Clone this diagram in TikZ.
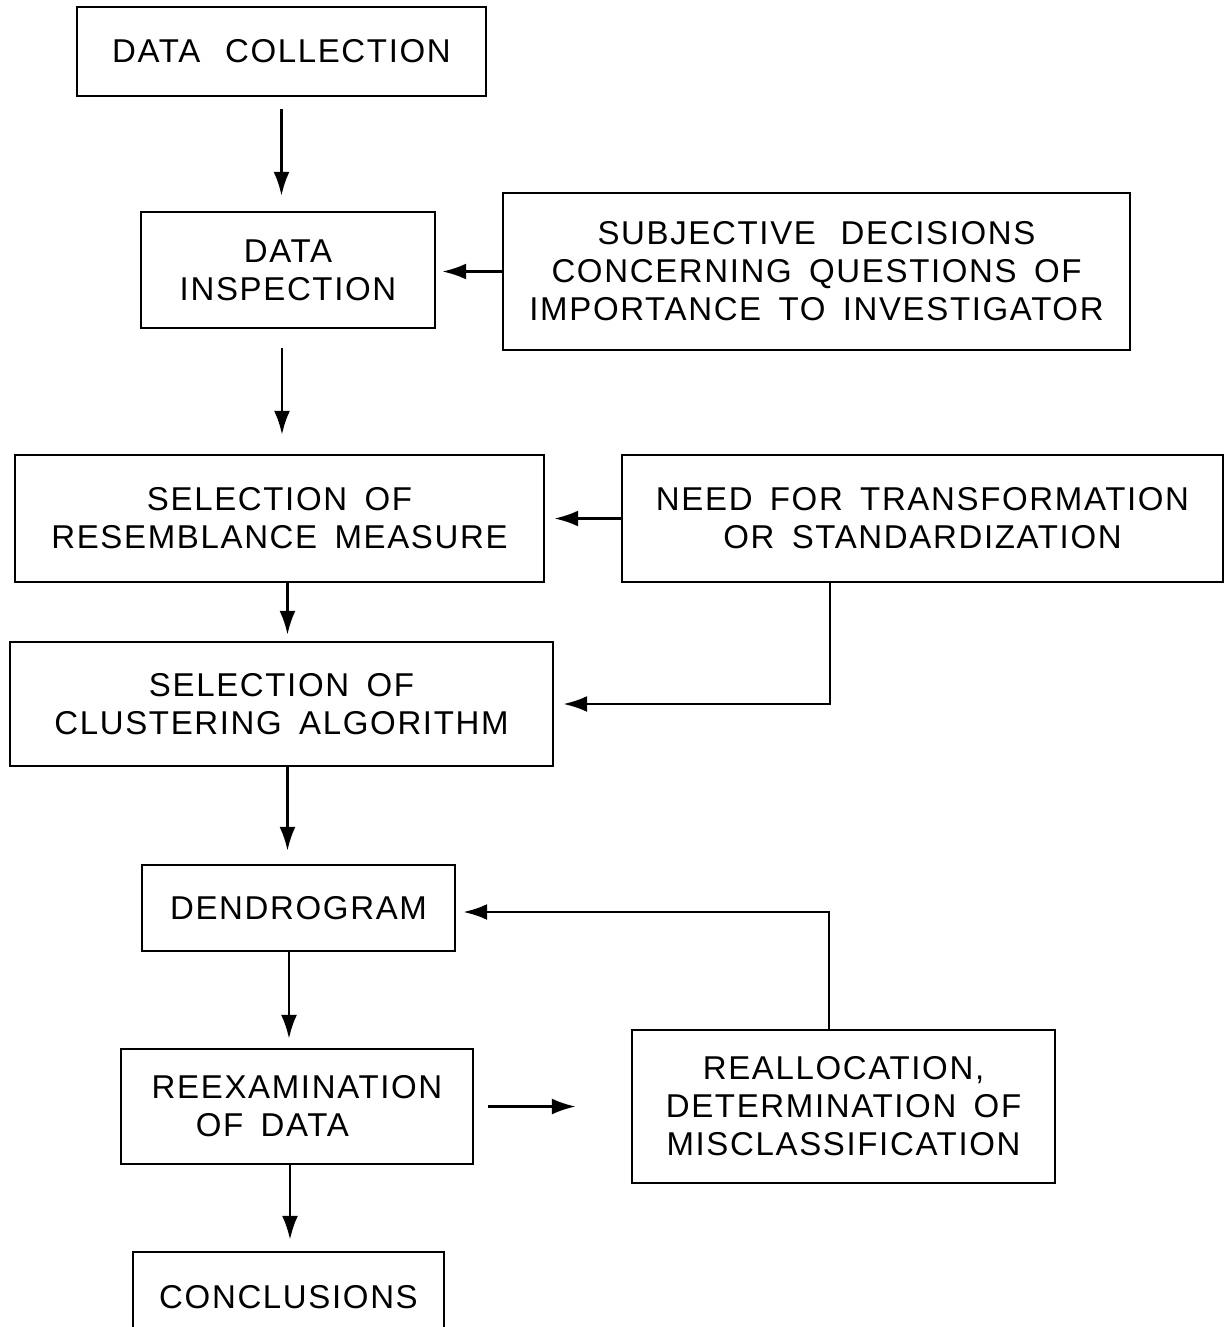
\documentclass[tikz,border=0pt]{standalone}
\usepackage{fontspec}
\setmainfont{Liberation Sans}[LetterSpace=5, WordSpace=1.6]
\usetikzlibrary{arrows.meta}
\begin{document}
\begin{tikzpicture}[x=0.5pt, y=-0.5pt, line width=1.2pt,
  main/.style = {draw, rectangle, align=center, inner sep=0pt, font=\fontsize{16.5}{19}\selectfont},
  arr/.style = {-{Latex[length=12pt, width=8pt]}, line width=1.4pt}]
\useasboundingbox (0,0) rectangle (1231,1327);

\node[main, minimum width=204.5pt, minimum height=44.5pt] (1) at (281.5,51.5) {DATA\hspace{0.75em}COLLECTION};
\node[main, minimum width=147pt, minimum height=58pt] (2) at (288,270) {DATA\\INSPECTION};
\node[main, minimum width=313.5pt, minimum height=78.5pt] (3) at (816.5,271.5) {SUBJECTIVE\hspace{0.75em}DECISIONS\\CONCERNING QUESTIONS OF\\IMPORTANCE TO INVESTIGATOR};
\node[main, minimum width=264.5pt, minimum height=63.5pt] (4) at (279.5,518.5) {SELECTION OF\\RESEMBLANCE MEASURE};
\node[main, minimum width=300.5pt, minimum height=63.5pt] (5) at (922.5,518.5) {NEED FOR TRANSFORMATION\\OR STANDARDIZATION};
\node[main, minimum width=271.5pt, minimum height=62pt] (6) at (281.5,704) {SELECTION OF\\CLUSTERING ALGORITHM};
\node[main, minimum width=156.5pt, minimum height=43pt] (7) at (298.5,908) {DENDROGRAM};
\node[main, minimum width=176pt, minimum height=57.5pt] (8) at (297,1106.5) {REEXAMINATION\\OF DATA\hphantom{NN}};
\node[main, minimum width=211.5pt, minimum height=76.5pt] (9) at (843.5,1106.5) {REALLOCATION,\\DETERMINATION OF\\MISCLASSIFICATION};
\node[main, minimum width=155.5pt, minimum height=45pt] (10) at (288.5,1297) {CONCLUSIONS};

\draw[arr, shorten <=6pt, shorten >=7.5pt] (1.south) -- (1.south |- 2.north);
\draw[arr, shorten >=3pt] (3.west) -- (3.west -| 2.east);
\draw[arr, shorten <=9.5pt, shorten >=9.5pt] ([xshift=-3pt]2.south) -- ([xshift=-3pt]2.south |- 4.north);
\draw[arr, shorten >=4.5pt] (5.west) -- (4.east);
\draw[arr, shorten >=3pt] ([xshift=4pt]4.south) -- ([xshift=4pt]4.south |- 6.north);
\draw[arr, shorten >=4.5pt] ([xshift=-46.25pt]5.south) |- (6.east);
\draw[arr, shorten >=6.5pt] ([xshift=3pt]6.south) -- ([xshift=3pt]6.south |- 7.north);
\draw[arr, shorten >=3.5pt] ([xshift=-7.25pt]9.north) |- ([yshift=-2pt]7.east);
\draw[arr, shorten >=4.5pt] ([xshift=-4.75pt]7.south) -- ([xshift=-4.75pt]7.south |- 8.north);
\draw[arr, shorten <=7pt, shorten >=27.5pt] (8.east) -- (8.east -| 9.west);
\draw[arr, shorten >=5.5pt] ([xshift=-3.5pt]8.south) -- ([xshift=-3.5pt]8.south |- 10.north);
\end{tikzpicture}
\end{document}
